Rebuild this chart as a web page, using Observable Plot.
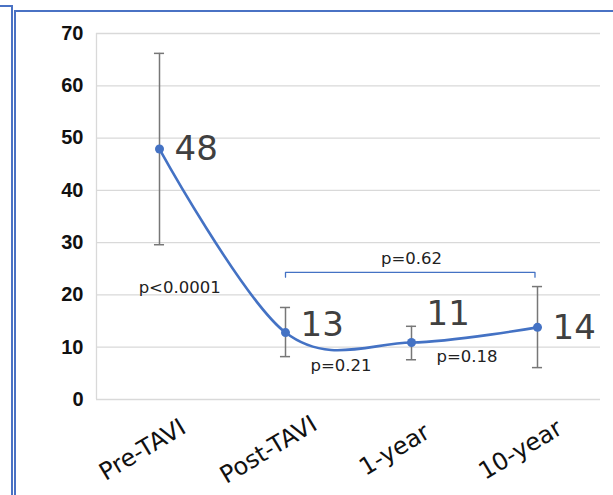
<!DOCTYPE html>
<html><head><meta charset="utf-8">
<script src="https://cdn.jsdelivr.net/npm/d3@7"></script>
<script src="https://cdn.jsdelivr.net/npm/@observablehq/plot@0.6"></script>
<style>
html,body{margin:0;padding:0;background:#fff;}
#wrap{position:relative;width:613px;height:495px;overflow:hidden;}
.frameA{position:absolute;left:-4px;top:5px;width:15px;height:520px;border-top:2px solid #4a72c4;border-right:2px solid #4a72c4;}
.frameB{position:absolute;left:14px;top:10px;width:640px;height:520px;border-top:2px solid #4a72c4;border-left:2px solid #4a72c4;}
#chart{position:absolute;left:0;top:0;}
</style></head><body>
<div id="wrap"><div class="frameA"></div><div class="frameB"></div><div id="chart"></div></div>
<script>
// ---- data ----
const categories = ["Pre-TAVI", "Post-TAVI", "1-year", "10-year"];
const means      = [47.9, 12.8, 10.9, 13.8];
const errLow     = [29.6, 8.2, 7.6, 6.1];
const errHigh    = [66.2, 17.6, 14.0, 21.6];
const yTicks     = [0, 10, 20, 30, 40, 50, 60, 70];
// p-value annotations (anchor in data space: category index, value)
const pTexts = ["p<0.0001", "p=0.21", "p=0.18", "p=0.62"];
const pX     = [0.16, 1.44, 2.44, 2.0];
const pY     = [21.3, 6.4, 8.2, 27.0];
// bracket for 10-year vs post-TAVI comparison
const bracketFrom = 1, bracketTo = 2.98, bracketY = 24.3, bracketDrop = 0.9;
// manual label lifts (value units) as in the original
const labelLift = [0, 1.35, 5.45, -0.1];

const rows = categories.map((c, i) => ({
  i, cat: c, mean: means[i], lo: errLow[i], hi: errHigh[i],
  label: String(Math.round(means[i])), ly: means[i] + labelLift[i]
}));
const pRows = pTexts.map((t, k) => ({text: t, x: pX[k], y: pY[k]}));
const bracket = [
  {x: bracketFrom, y: bracketY - bracketDrop},
  {x: bracketFrom, y: bracketY},
  {x: bracketTo, y: bracketY},
  {x: bracketTo, y: bracketY - bracketDrop}
];

const blue = "#4472c4";
const capW = 0.04;
const chart = Plot.plot({
  width: 613, height: 495,
  marginLeft: 96, marginRight: 13, marginTop: 33, marginBottom: 96,
  x: {domain: [-0.5, 3.5], axis: null},
  y: {domain: [0, 70], axis: null},
  style: {background: "transparent", fontFamily: "DejaVu Sans", overflow: "visible"},
  marks: [
    Plot.gridY(yTicks, {stroke: "#d9d9d9", strokeOpacity: 1, strokeWidth: 1.3}),
    Plot.ruleX([-0.5], {y1: 0, y2: 70, stroke: "#d9d9d9", strokeWidth: 1.3}),
    Plot.axisY(yTicks, {tickSize: 0, tickPadding: 13, fontSize: 20, fontWeight: "bold",
      fontFamily: "Liberation Sans", color: "#111", label: null}),
    Plot.text(categories, {x: (d, i) => i, text: d => d, frameAnchor: "bottom",
      dy: 57, dx: -13, rotate: -31, fontSize: 24, fill: "#111"}),
    Plot.ruleX(rows, {x: "i", y1: "lo", y2: "hi", stroke: "#777", strokeWidth: 1.5}),
    Plot.ruleY(rows, {y: "lo", x1: d => d.i - capW, x2: d => d.i + capW, stroke: "#777", strokeWidth: 1.5}),
    Plot.ruleY(rows, {y: "hi", x1: d => d.i - capW, x2: d => d.i + capW, stroke: "#777", strokeWidth: 1.5}),
    Plot.line(rows, {x: "i", y: "mean", curve: "cardinal", stroke: blue, strokeWidth: 2.6}),
    Plot.dot(rows, {x: "i", y: "mean", r: 4.5, fill: blue, stroke: null}),
    Plot.text(rows, {x: "i", y: "ly", text: "label", dx: 15, textAnchor: "start",
      fontSize: 34, fill: "#404040"}),
    Plot.line(bracket, {x: "x", y: "y", stroke: blue, strokeWidth: 1.3}),
    Plot.text(pRows, {x: "x", y: "y", text: "text", fontSize: 16.5, fill: "#222"})
  ]
});
document.getElementById("chart").appendChild(chart);
</script>
</body></html>
